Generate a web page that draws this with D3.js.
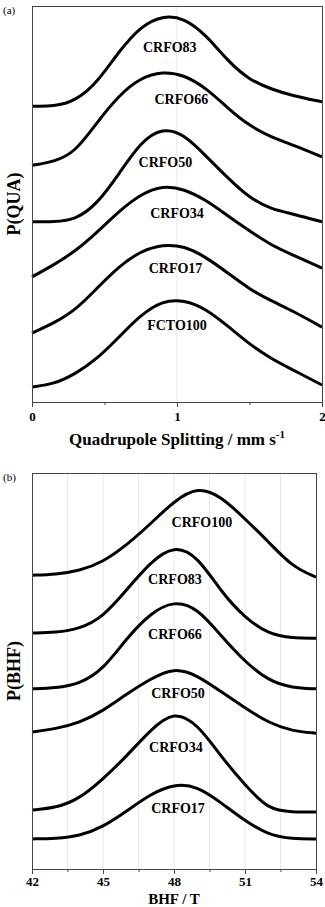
<!DOCTYPE html>
<html>
<head>
  <script src="https://d3js.org/d3.v7.min.js"></script>
  <title>P(QUA) and P(BHF) distributions</title>
  <style>
    body { margin: 0; background: #fff; }
    svg { display: block; }
    .frame { fill: none; stroke: #444; stroke-width: 1; }
    .grid line { stroke: #e6e6e6; stroke-width: 1; }
    .curve { fill: none; stroke: #000; stroke-width: 3; }
    .axis path { display: none; }
    .axis line { stroke: #444; }
    .axis text { font-family: "Liberation Serif", serif; font-weight: bold; font-size: 13px; fill: #000; }
    .lbl { font-family: "Liberation Serif", serif; font-weight: bold; font-size: 14px; fill: #000; }
    .title { font-family: "Liberation Serif", serif; font-weight: bold; font-size: 17px; fill: #000; }
    .ytitle { font-family: "Liberation Serif", serif; font-weight: bold; font-size: 18px; fill: #000; }
    .panel { font-family: "Liberation Serif", serif; font-size: 11px; fill: #000; }
  </style>
</head>
<body>
<div id="chart"></div>
<script>
// panel (a): quadrupole splitting, mm/s
var qGrid = [0, 0.15, 0.3, 0.45, 0.6, 0.75, 0.9, 1.05, 1.2, 1.35, 1.5, 1.65, 1.8, 2.0];
var quaNames = ["CRFO83", "CRFO66", "CRFO50", "CRFO34", "CRFO17", "FCTO100"];
var qua83  = [74.7, 74.6, 76.0, 80.6, 88.6, 94.9, 97.6, 97.0, 92.7, 86.1, 81.3, 79.0, 77.3, 75.8];
var qua66  = [59.8, 60.6, 63.1, 70.7, 77.5, 81.9, 83.5, 82.6, 79.3, 74.2, 69.7, 66.9, 64.9, 61.9];
var qua50  = [45.5, 45.5, 46.0, 50.0, 57.6, 65.7, 69.3, 67.6, 62.1, 56.6, 51.5, 48.7, 47.5, 45.5];
var qua34  = [31.6, 34.6, 38.1, 42.9, 48.2, 52.5, 54.7, 53.8, 51.0, 47.0, 43.2, 39.6, 37.1, 33.8];
var qua17  = [17.4, 19.9, 23.2, 28.8, 34.3, 38.1, 39.8, 39.4, 36.6, 32.6, 28.5, 25.5, 23.0, 18.9];
var qua100 = [3.8, 4.5, 7.1, 10.9, 16.4, 22.0, 25.6, 25.8, 23.5, 19.2, 14.6, 10.9, 8.1, 4.3];
var quaLabelX = [0.95, 1.03, 0.92, 1.0, 0.99, 1.0];
var quaLabelY = [89.6, 76.3, 60.4, 47.7, 33.8, 19.4];
var quaTicks = [0, 1, 2];

// panel (b): hyperfine field, T
var bGrid = [42, 43, 44, 45, 46, 47, 48, 49, 50, 51, 52, 53, 54];
var bhfNames = ["CRFO100", "CRFO83", "CRFO66", "CRFO50", "CRFO34", "CRFO17"];
var bhf100 = [74.2, 74.4, 75.3, 77.5, 81.8, 87.1, 92.9, 96.6, 94.1, 88.4, 82.6, 76.3, 73.7];
var bhf83  = [59.6, 59.7, 60.6, 63.6, 70.5, 77.5, 81.8, 79.0, 69.9, 63.4, 59.3, 58.3, 58.3];
var bhf66  = [45.5, 45.7, 46.7, 50.3, 58.3, 64.6, 67.8, 65.9, 58.8, 52.3, 47.5, 45.7, 45.5];
var bhf50  = [34.6, 35.4, 36.9, 39.9, 44.2, 48.0, 50.9, 48.9, 44.7, 40.7, 36.9, 34.8, 34.3];
var bhf34  = [14.9, 15.4, 17.7, 22.7, 28.5, 35.1, 40.0, 36.6, 28.3, 21.2, 14.9, 14.4, 14.4];
var bhf17  = [7.6, 7.7, 8.3, 10.6, 14.6, 18.9, 21.5, 20.9, 16.7, 12.1, 8.6, 7.6, 7.6];
var bhfLabelX = [49.18, 48.04, 48.04, 48.17, 48.08, 48.17];
var bhfLabelY = [87.6, 73.0, 59.1, 44.2, 30.8, 15.4];
var bhfTicks = [42, 45, 48, 51, 54];
var bhfGridVals = [43.5, 45, 46.5, 48, 49.5, 51, 52.5];

var svg = d3.select("#chart")
  .append("svg")
  .attr("width", 325)
  .attr("height", 907);

function drawPanel(opt) {
  var x = d3.scaleLinear().domain(opt.xDomain).range([opt.left, opt.right]);
  var y = d3.scaleLinear().domain([0, 100]).range([opt.bottom, opt.top]);
  var g = svg.append("g");

  g.append("g")
    .attr("class", "grid")
    .selectAll("line")
    .data(opt.gridVals)
    .enter().append("line")
    .attr("x1", function(d) { return x(d); })
    .attr("x2", function(d) { return x(d); })
    .attr("y1", opt.top)
    .attr("y2", opt.bottom);

  var line = d3.line()
    .x(function(d) { return x(d[0]); })
    .y(function(d) { return y(d[1]); })
    .curve(d3.curveBasis);

  g.selectAll(".curve")
    .data(opt.series)
    .enter().append("path")
    .attr("class", "curve")
    .attr("d", function(s) {
      return line(opt.xs.map(function(v, i) { return [v, s[i]]; }));
    });

  g.selectAll(".lbl")
    .data(opt.names)
    .enter().append("text")
    .attr("class", "lbl")
    .attr("x", function(d, i) { return x(opt.labelX[i]); })
    .attr("y", function(d, i) { return y(opt.labelY[i]); })
    .attr("text-anchor", "middle")
    .attr("dominant-baseline", "central")
    .text(function(d) { return d; });

  // minor ticks
  g.append("g")
    .attr("class", "axis")
    .attr("transform", "translate(0," + opt.bottom + ")")
    .call(d3.axisBottom(x).tickValues(opt.minorTicks).tickSize(3).tickFormat(""));

  g.append("g")
    .attr("class", "axis")
    .attr("transform", "translate(0," + opt.bottom + ")")
    .call(d3.axisBottom(x).tickValues(opt.ticks).tickSize(5).tickPadding(opt.pad).tickFormat(d3.format("d")));

  g.append("rect")
    .attr("class", "frame")
    .attr("x", opt.left + 0.5)
    .attr("y", opt.top + 0.5)
    .attr("width", opt.right - opt.left)
    .attr("height", opt.bottom - opt.top);

  var t = g.append("text")
    .attr("class", "title")
    .attr("x", (opt.left + opt.right) / 2)
    .attr("y", opt.titleY)
    .attr("text-anchor", "middle")
    .style("font-size", opt.titleSize + "px")
    .text(opt.xTitle);
  if (opt.sup) {
    t.append("tspan")
      .attr("dy", -7)
      .style("font-size", "11px")
      .text(opt.sup);
  }

  g.append("text")
    .attr("class", "ytitle")
    .attr("transform", "translate(20," + ((opt.top + opt.bottom) / 2) + ") rotate(-90)")
    .attr("text-anchor", "middle")
    .text(opt.yTitle);

  g.append("text")
    .attr("class", "panel")
    .attr("x", 3)
    .attr("y", opt.top + 8)
    .text(opt.tag);
}

drawPanel({
  xDomain: [0, 2], left: 32, right: 322, top: 6, bottom: 402,
  xs: qGrid,
  series: [qua83, qua66, qua50, qua34, qua17, qua100],
  names: quaNames, labelX: quaLabelX, labelY: quaLabelY,
  ticks: quaTicks, minorTicks: [0.5, 1.5], gridVals: [1], pad: 5,
  xTitle: "Quadrupole Splitting / mm s", sup: "-1", titleY: 445, titleSize: 17,
  yTitle: "P(QUA)", tag: "(a)"
});

drawPanel({
  xDomain: [42, 54], left: 32, right: 316, top: 473, bottom: 869,
  xs: bGrid,
  series: [bhf100, bhf83, bhf66, bhf50, bhf34, bhf17],
  names: bhfNames, labelX: bhfLabelX, labelY: bhfLabelY,
  ticks: bhfTicks, minorTicks: [43.5, 46.5, 49.5, 52.5], gridVals: bhfGridVals, pad: 3,
  xTitle: "BHF / T", sup: null, titleY: 903.5, titleSize: 15,
  yTitle: "P(BHF)", tag: "(b)"
});
</script>
</body>
</html>
